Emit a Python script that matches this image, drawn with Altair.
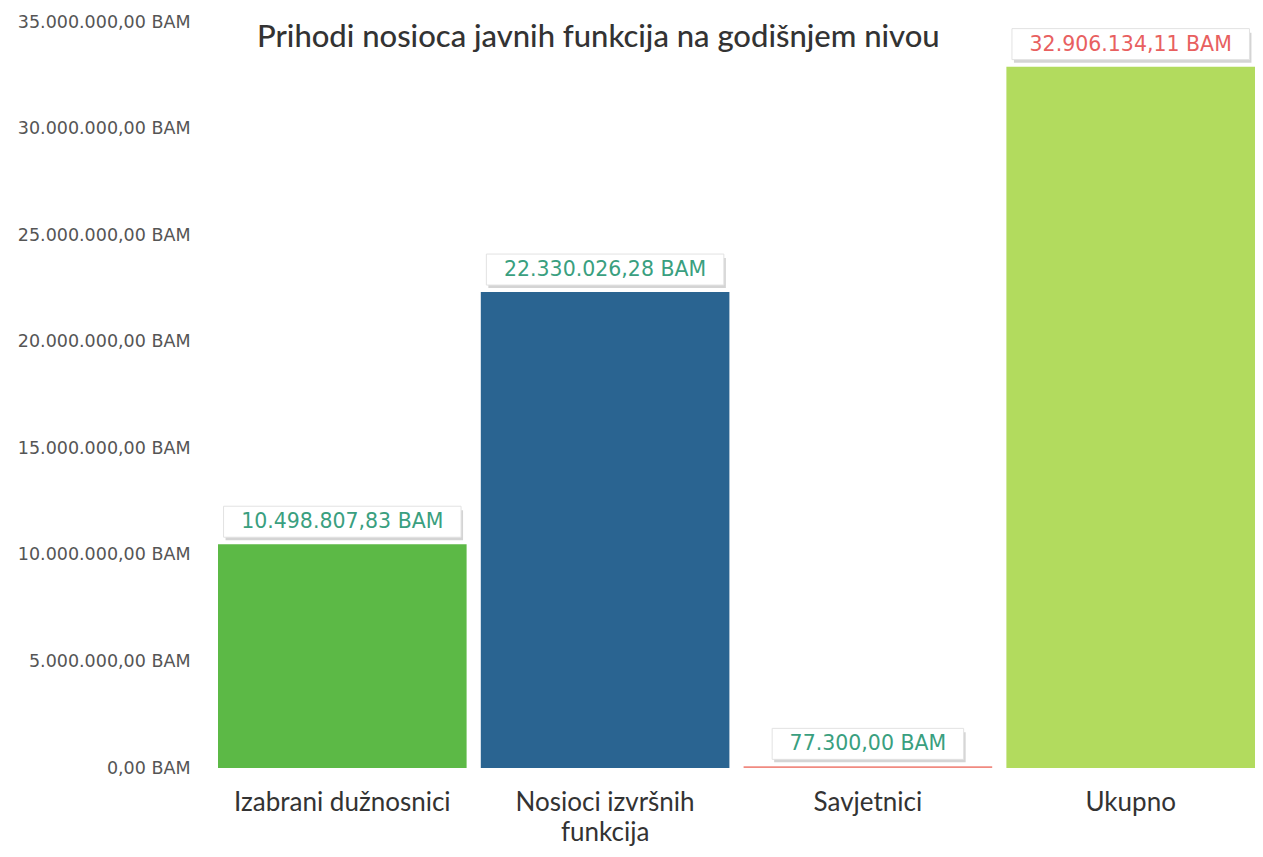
import altair as alt
import pandas as pd

categories = ["Izabrani dužnosnici", "Nosioci izvršnih funkcija", "Savjetnici", "Ukupno"]
values = [10498807.83, 22330026.28, 77300.00, 32906134.11]
y_ticks = [0, 5000000, 10000000, 15000000, 20000000, 25000000, 30000000, 35000000]
bar_colors = ["#5cb946", "#2a6491", "#f08a80", "#b2db5e"]
label_colors = ["#3a9f7f", "#3a9f7f", "#3a9f7f", "#e8605f"]
title_text = "Prihodi nosioca javnih funkcija na godišnjem nivou"


def fmt(v):
    s = f"{v:,.2f}"
    s = s.replace(",", "_").replace(".", ",").replace("_", ".")
    return s + " BAM"


df = pd.DataFrame({"cat": categories, "value": values, "label": [fmt(v) for v in values]})

y_label_expr = (
    "replace(replace(replace(format(datum.value, ',.2f'), regexp(',', 'g'), '_'), "
    "regexp('\\\\.', 'g'), ','), regexp('_', 'g'), '.') + ' BAM'"
)

x_enc = alt.X(
    "cat:N",
    sort=categories,
    scale=alt.Scale(paddingInner=0.054, paddingOuter=0),
    axis=alt.Axis(
        title=None,
        labelAngle=0,
        domain=False,
        ticks=False,
        labelFont="Lato",
        labelFontSize=26,
        labelColor="#333333",
        labelPadding=21,
        labelLineHeight=30,
        labelLimit=0,
        labelExpr="datum.label == 'Nosioci izvršnih funkcija' ? ['Nosioci izvršnih', 'funkcija'] : datum.label",
    ),
)

y_scale = alt.Scale(domain=[0, 35000000], nice=False)

base = alt.Chart(df).encode(x=x_enc)

bars = base.mark_bar().encode(
    y=alt.Y(
        "value:Q",
        scale=y_scale,
        axis=alt.Axis(
            title=None,
            values=y_ticks,
            labelExpr=y_label_expr,
            domain=False,
            ticks=False,
            grid=False,
            labelFont="DejaVu Sans",
            labelFontSize=17.5,
            labelColor="#555555",
            labelPadding=28,
            labelLimit=0,
        ),
    ),
    color=alt.Color("cat:N", scale=alt.Scale(domain=categories, range=bar_colors), legend=None),
)

box_base = base.transform_calculate(w="42 + 11.5 * length(datum.label)")

shadow = box_base.mark_bar(yOffset=-4, y2Offset=-34, xOffset=2, color="#d4d4d4").encode(
    y=alt.Y("value:Q", scale=y_scale),
    y2="value",
    size=alt.Size("w:Q", scale=None),
)

box = box_base.mark_bar(
    yOffset=-7, y2Offset=-38, color="white", stroke="#e2e2e2", strokeWidth=1
).encode(
    y=alt.Y("value:Q", scale=y_scale),
    y2="value",
    size=alt.Size("w:Q", scale=None),
)

text = base.mark_text(
    yOffset=-22, baseline="middle", font="DejaVu Sans", fontSize=20.5
).encode(
    y=alt.Y("value:Q", scale=y_scale),
    text="label:N",
    color=alt.Color("cat:N", scale=alt.Scale(domain=categories, range=label_colors), legend=None),
)

chart = (
    alt.layer(bars, shadow, box, text)
    .resolve_scale(color="independent")
    .properties(
        width=1037,
        height=746,
        autosize="none",
        padding={"left": 210, "top": 14, "right": 0, "bottom": 81},
        title=alt.TitleParams(
            title_text,
            anchor="start",
            frame="group",
            dx=39,
            offset=-41,
            baseline="top",
            font="Lato",
            fontSize=31,
            fontWeight=500,
            color="#333333",
        ),
    )
    .configure_view(stroke=None)
)

chart.save("out.html", embed_options={"renderer": "svg", "actions": False})
